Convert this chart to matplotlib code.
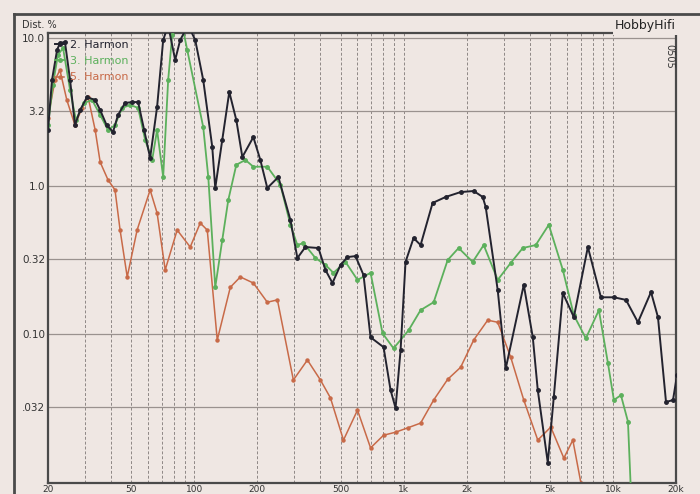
import matplotlib.pyplot as plt
from matplotlib.lines import Line2D

# Klirrfaktor: 2., 3. und 5. Harmonische (Frequenz in Hz, Klirr in %)
f_k2 = [20, 20.9, 22.1, 22.8, 24.1, 25.5, 26.9, 28.5, 30.7, 33.6, 35.5, 38.1, 40.9, 43.2,
        46.7, 50.5, 53.9, 57.6, 61.5, 66.4, 71.0, 75.0, 81.0, 85.6, 93.5, 101, 110.3, 121.8,
        125.9, 136, 146.9, 158.7, 169.6, 191.4, 206.7, 223.2, 252.1, 287.8, 310.7, 339.4,
        391.6, 423, 457, 499.4, 539, 588.9, 643.2, 694.9, 801.7, 866, 915, 966.9, 1021,
        1115, 1205, 1375, 1587, 1872, 2161, 2386, 2466, 2814, 3074, 3748, 4139, 4372, 4882,
        5215, 5760, 6502, 7586, 8756, 10100, 11534, 13160, 15190, 16400, 17920, 19350, 20220]
d_k2 = [2.39, 5.20, 8.30, 9.25, 9.40, 5.20, 2.58, 3.26, 3.99, 3.81, 3.26, 2.58, 2.32, 3.02,
        3.64, 3.69, 3.69, 2.39, 1.55, 3.42, 9.69, 12.2, 7.10, 9.69, 12.2, 9.69, 5.20, 1.84,
        0.969, 2.05, 4.32, 2.79, 1.57, 2.14, 1.50, 0.969, 1.15, 0.589, 0.326, 0.387,
        0.381, 0.271, 0.221, 0.293, 0.331, 0.336, 0.25, 0.095, 0.0815, 0.0418, 0.0316, 0.078, 0.307,
        0.445, 0.399, 0.768, 0.843, 0.91, 0.925, 0.843, 0.721, 0.198, 0.0585, 0.215, 0.095, 0.0418, 0.0135,
        0.0375, 0.189, 0.130, 0.387, 0.177, 0.177, 0.170, 0.120, 0.192, 0.130, 0.0347, 0.0358, 0.0526]

f_k3 = [20, 21.1, 22.3, 23.6, 25.5, 27.2, 29.7, 32.5, 35.5, 38.7, 41.8, 45.2, 49.4, 53.9,
        58.2, 62.9, 66.4, 71.0, 75.0, 78.4, 83.8, 88.5, 92.5, 110.3, 116.6, 125.9, 136, 145.3,
        158.7, 175.3, 191.4, 223.2, 257.7, 287.8, 310.7, 332, 379, 423, 462, 527.4, 601.9,
        694.9, 792.9, 894.9, 1056, 1205, 1391, 1623, 1830, 2137, 2412, 2814, 3247, 3707, 4276,
        4936, 5760, 6502, 7420, 8564, 9459, 10100, 10913, 11790, 12185]
d_k3 = [2.58, 4.81, 7.68, 8.56, 4.45, 2.79, 3.64, 3.81, 3.02, 2.39, 2.58, 3.37, 3.53, 3.37,
        2.05, 1.50, 2.39, 1.15, 5.20, 10.5, 12.2, 11.3, 8.30, 2.50, 1.15, 0.207, 0.432, 0.804,
        1.39, 1.50, 1.35, 1.35, 1.02, 0.547, 0.399, 0.412, 0.326, 0.293, 0.259, 0.307, 0.232,
        0.259, 0.101, 0.080, 0.106, 0.145, 0.164, 0.316, 0.381, 0.307, 0.399, 0.232, 0.302, 0.381, 0.399,
        0.547, 0.271, 0.134, 0.0935, 0.145, 0.0636, 0.0358, 0.0386, 0.0256, 0.0085]

f_k5 = [20, 21.6, 22.8, 24.6, 26.9, 29.1, 31.1, 33.6, 35.5, 38.7, 41.8, 44.2, 47.8, 53.3,
        61.5, 66.4, 72.6, 82.8, 95.6, 106.7, 115.3, 128.7, 148.6, 165.9, 191.4, 223.2, 249.4,
        297.3, 346.9, 400.3, 447, 515.9, 601.9, 694.9, 801.7, 915, 1044, 1205, 1391, 1623,
        1872, 2161, 2521, 2814, 3247, 3748, 4372, 5045, 5824, 6429, 7022, 7258]
d_k5 = [2.88, 5.20, 6.08, 3.81, 2.58, 3.37, 3.99, 2.39, 1.45, 1.10, 0.940, 0.504, 0.243, 0.504,
        0.940, 0.657, 0.271, 0.504, 0.387, 0.562, 0.504, 0.0911, 0.207, 0.243, 0.221, 0.164, 0.170,
        0.0489, 0.0667, 0.0489, 0.0370, 0.0192, 0.0306, 0.0170, 0.0207, 0.0217, 0.0232, 0.0250, 0.0358, 0.0494,
        0.0596, 0.0911, 0.124, 0.120, 0.0697, 0.0358, 0.0192, 0.0235, 0.0145, 0.0192, 0.0099, 0.008]

y_ticks = [10.0, 3.2, 1.0, 0.32, 0.10, 0.032]
y_labels = ["10.0", "3.2", "1.0", "0.32", "0.10", ".032"]
x_ticks = [20, 50, 100, 200, 500, 1000, 2000, 5000, 10000, 20000]
x_labels = ["20", "50", "100", "200", "500", "1k", "2k", "5k", "10k", "20k"]

bg = '#efe7e3'
fig = plt.figure(figsize=(7, 4.94), dpi=100, facecolor=bg)
ax = fig.add_axes([48/700, 1-483/494, (676-48)/700, (483-33)/494])
ax.set_facecolor(bg)
ax.set_xscale('log')
ax.set_yscale('log')
ax.set_xlim(20, 20000)
ax.set_ylim(10**(-2-1/148), 10**(1+5/148))

# Gitter
for dec in [10, 100, 1000, 10000]:
    for m in range(1, 10):
        f = dec*m
        if 20 < f < 20000:
            ax.axvline(f, color='#8e8886', lw=0.7, ls=(0, (3, 2)), zorder=1)
for y in y_ticks:
    ax.axhline(y, color='#9a928f', lw=0.9, zorder=1)

ax.plot(f_k2, d_k2, color='#23232f', lw=1.4, marker='o', ms=2.5, label='2. Harmon', zorder=4)
ax.plot(f_k3, d_k3, color='#5cb05c', lw=1.3, marker='o', ms=2.5, label='3. Harmon', zorder=3)
ax.plot(f_k5, d_k5, color='#c86a48', lw=1.1, marker='o', ms=2.2, label='5. Harmon', zorder=2)

ax.set_yticks(y_ticks)
ax.set_yticklabels(y_labels)
ax.yaxis.set_minor_locator(plt.NullLocator())
ax.set_xticks(x_ticks)
ax.set_xticklabels(x_labels)
ax.xaxis.set_minor_locator(plt.NullLocator())
ax.tick_params(length=0, labelsize=7.5, colors='#333333')
ax.tick_params(axis='x', pad=1.5, labelsize=6.5)
ax.tick_params(axis='y', pad=2)
for s in ax.spines.values():
    s.set_color('#4a4a4a')
    s.set_linewidth(1.6)

leg = ax.legend(loc='upper left', bbox_to_anchor=(0.0, 1.0), frameon=False, fontsize=8,
                handlelength=0.8, handletextpad=0.5, labelspacing=0.55, borderaxespad=0.25,
                labelcolor='linecolor')

# Rahmen und Beschriftung
fig.add_artist(Line2D([14/700, 1], [1-14/494, 1-14/494], color='#4a4a4a', lw=2))
fig.add_artist(Line2D([14/700, 14/700], [0, 1-14/494], color='#4a4a4a', lw=2))
fig.text(22/700, 1-25/494, 'Dist. %', fontsize=7, color='#333333', va='center')
fig.text(676/700, 1-26/494, 'HobbyHifi', fontsize=9, color='#222222', ha='right', va='center',
         bbox=dict(facecolor=bg, edgecolor='none', pad=1.5))
fig.text(669/700, 1-56/494, '0505', fontsize=7, color='#333333', rotation=270,
         ha='center', va='center')

fig.savefig('out.png', dpi=100, facecolor=bg)
